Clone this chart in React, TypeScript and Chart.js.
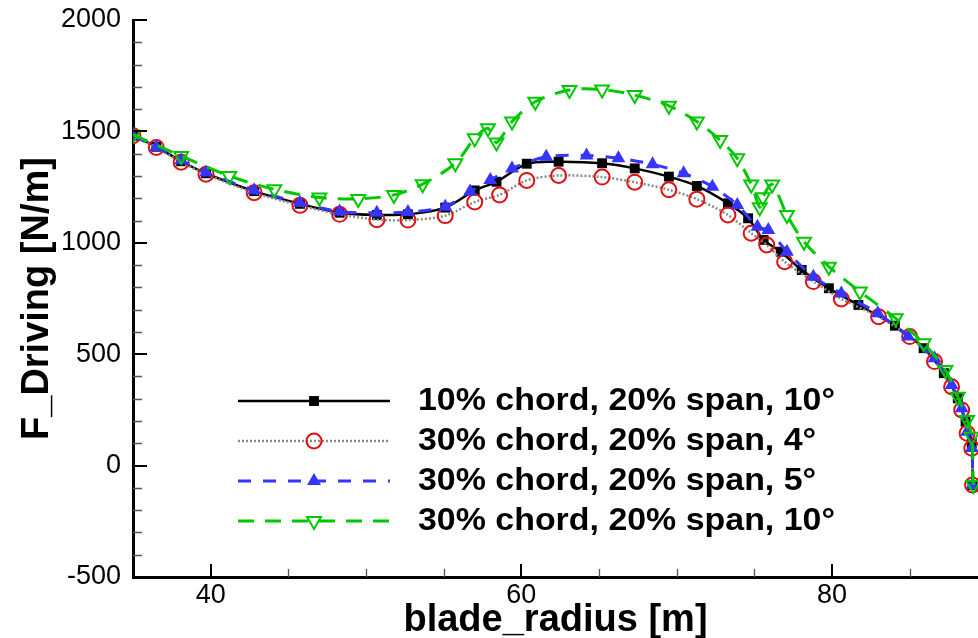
import React, { useEffect, useRef } from "react";
import { Chart, registerables } from "chart.js";

Chart.register(...registerables);

// ---------- data ----------
const seriesLabels = [
  "10% chord, 20% span, 10°",
  "30% chord, 20% span, 4°",
  "30% chord, 20% span, 5°",
  "30% chord, 20% span, 10°",
];

const radiusA = [35.0, 36.5, 38.1, 39.7, 42.8, 45.75, 48.3, 50.7, 52.7, 55.1, 57.0, 58.4, 60.35, 62.4, 65.2, 67.3, 69.5, 71.3, 73.3, 74.6, 75.6, 76.7, 78.05, 79.8, 81.7, 84.05, 85.9, 87.2, 88.1, 88.6, 89.0, 89.05];
const forceA = [1480, 1431, 1366, 1312, 1232, 1175, 1135, 1125, 1128, 1158, 1235, 1274, 1355, 1364, 1357, 1334, 1297, 1255, 1177, 1110, 1013, 960, 878, 796, 721, 628, 527, 415, 302, 197, 100, -87];

const radiusB = [35.0, 36.5, 38.1, 39.7, 42.8, 45.75, 48.3, 50.7, 52.7, 55.1, 57.0, 58.6, 60.35, 62.4, 65.2, 67.3, 69.5, 71.3, 73.3, 74.8, 75.8, 76.95, 78.8, 80.6, 83.0, 85.0, 86.6, 87.7, 88.35, 88.7, 89.0, 89.05];
const forceB = [1480, 1428, 1362, 1308, 1225, 1168, 1128, 1104, 1102, 1122, 1183, 1215, 1280, 1302, 1295, 1272, 1238, 1196, 1125, 1043, 990, 915, 826, 748, 668, 579, 467, 354, 250, 145, 78, -87];

const radiusC = [35.0, 36.5, 38.1, 39.7, 42.8, 45.75, 48.3, 50.7, 52.7, 55.1, 56.7, 58.0, 59.4, 61.6, 64.2, 66.25, 68.45, 70.45, 72.3, 73.9, 75.2, 75.9, 77.1, 78.8, 80.6, 82.95, 84.9, 86.6, 87.7, 88.35, 88.7, 89.0, 89.05];
const forceC = [1480, 1430, 1370, 1316, 1236, 1180, 1140, 1135, 1138, 1162, 1230, 1282, 1334, 1386, 1392, 1380, 1352, 1312, 1252, 1170, 1072, 1057, 960, 848, 773, 684, 579, 482, 362, 257, 152, 79, -87];

const radiusD = [35.0, 38.1, 41.2, 44.1, 47.0, 49.5, 51.8, 53.65, 55.75, 57.0, 57.85, 58.4, 59.4, 60.9, 63.1, 65.2, 67.3, 69.5, 71.3, 72.8, 73.9, 74.8, 75.35, 75.55, 76.15, 77.1, 78.2, 79.8, 81.8, 84.1, 85.9, 87.3, 88.1, 88.7, 89.0, 89.1];
const forceD = [1485, 1390, 1300, 1240, 1203, 1197, 1215, 1263, 1357, 1469, 1514, 1450, 1544, 1633, 1686, 1688, 1663, 1615, 1544, 1461, 1379, 1262, 1160, 1205, 1262, 1125, 1005, 893, 781, 661, 549, 429, 309, 205, 130, -87];

const xTickValues = [40, 60, 80];
const xMinorTickValues = [45, 50, 55, 65, 70, 75, 85];
const yTickValues = [-500, 0, 500, 1000, 1500, 2000];
const yMinorTickValues = [-400, -300, -200, -100, 100, 200, 300, 400, 600, 700, 800, 900, 1100, 1200, 1300, 1400, 1600, 1700, 1800, 1900];

const xLabel = "blade_radius [m]";
const yLabel = "F_Driving [N/m]";

const FONT = "'Liberation Sans', Arial, Helvetica, sans-serif";

const toPoints = (xs: number[], ys: number[]) => xs.map((x, i) => ({ x, y: ys[i] }));

type MarkerKind = "square" | "circle" | "triUp" | "triDown";

function drawMarker(ctx: CanvasRenderingContext2D, kind: MarkerKind, x: number, y: number, ds: any) {
  ctx.save();
  ctx.setLineDash([]);
  ctx.lineWidth = ds.pointBorderWidth;
  ctx.strokeStyle = ds.pointBorderColor;
  ctx.fillStyle = ds.pointBackgroundColor;
  const r = ds.pointRadius;
  ctx.beginPath();
  if (kind === "square") {
    const s = Math.SQRT1_2 * r;
    ctx.rect(x - s, y - s, 2 * s, 2 * s);
  } else if (kind === "circle") {
    ctx.arc(x, y, r, 0, Math.PI * 2);
  } else {
    const rot = kind === "triDown" ? Math.PI : 0;
    for (let k = 0; k < 3; k++) {
      const a = -Math.PI / 2 + rot + (k * 2 * Math.PI) / 3;
      const px = x + Math.cos(a) * r;
      const py = y + Math.sin(a) * r;
      if (k === 0) ctx.moveTo(px, py);
      else ctx.lineTo(px, py);
    }
    ctx.closePath();
  }
  ctx.fill();
  if (ds.pointBorderWidth > 0) ctx.stroke();
  ctx.restore();
}

const markerKinds: MarkerKind[] = ["square", "circle", "triUp", "triDown"];

const decorPlugin = {
  id: "decor",
  afterDraw(chart: any) {
    const ctx: CanvasRenderingContext2D = chart.ctx;
    const xs = chart.scales.x;
    const ys = chart.scales.y;
    const { left, bottom } = chart.chartArea;
    ctx.save();
    // inward ticks
    ctx.strokeStyle = "#000";
    ctx.lineWidth = 2;
    ctx.beginPath();
    yTickValues.forEach((v) => {
      const p = Math.round(ys.getPixelForValue(v));
      ctx.moveTo(left, p);
      ctx.lineTo(left + 14, p);
    });
    xTickValues.forEach((v) => {
      const p = Math.round(xs.getPixelForValue(v));
      ctx.moveTo(p, bottom);
      ctx.lineTo(p, bottom - 13);
    });
    ctx.stroke();
    ctx.strokeStyle = "#555";
    ctx.lineWidth = 1.3;
    ctx.beginPath();
    yMinorTickValues.forEach((v) => {
      const p = Math.round(ys.getPixelForValue(v)) + 0.5;
      ctx.moveTo(left, p);
      ctx.lineTo(left + 9, p);
    });
    xMinorTickValues.forEach((v) => {
      const p = Math.round(xs.getPixelForValue(v)) + 0.5;
      ctx.moveTo(p, bottom);
      ctx.lineTo(p, bottom - 8);
    });
    ctx.stroke();
    ctx.restore();

    // legend
    chart.data.datasets.forEach((ds: any, i: number) => {
      const y = 401 + i * 40;
      ctx.save();
      ctx.strokeStyle = ds.borderColor;
      ctx.lineWidth = ds.borderWidth;
      ctx.setLineDash(ds.borderDash || []);
      ctx.beginPath();
      ctx.moveTo(238, y);
      ctx.lineTo(390, y);
      ctx.stroke();
      ctx.restore();
      drawMarker(ctx, markerKinds[i], 314, y, ds);
      ctx.save();
      ctx.fillStyle = "#000";
      ctx.font = `bold 32px ${FONT}`;
      ctx.textBaseline = "middle";
      ctx.textAlign = "left";
      ctx.translate(418, y);
      ctx.scale(1.06, 1);
      ctx.fillText(ds.label, 0, 0);
      ctx.restore();
    });
  },
};

export default function App() {
  const canvasRef = useRef<HTMLCanvasElement | null>(null);

  useEffect(() => {
    const canvas = canvasRef.current;
    if (!canvas) return;
    const chart = new Chart(canvas, {
      type: "scatter",
      data: {
        datasets: [
          {
            label: seriesLabels[0],
            data: toPoints(radiusA, forceA),
            showLine: true,
            borderColor: "#000000",
            borderWidth: 2.5,
            tension: 0.3,
            pointStyle: "rect",
            pointRadius: 7,
            pointBackgroundColor: "#000000",
            pointBorderColor: "#000000",
            pointBorderWidth: 0,
            order: 3,
          },
          {
            label: seriesLabels[1],
            data: toPoints(radiusB, forceB),
            showLine: true,
            borderColor: "#8a8a8a",
            borderWidth: 2.5,
            borderDash: [2, 2],
            tension: 0.3,
            pointStyle: "circle",
            pointRadius: 7.5,
            pointBackgroundColor: "rgba(0,0,0,0)",
            pointBorderColor: "#dd1111",
            pointBorderWidth: 2,
            order: 2,
          },
          {
            label: seriesLabels[2],
            data: toPoints(radiusC, forceC),
            showLine: true,
            borderColor: "#3535ff",
            borderWidth: 3,
            borderDash: [13, 12],
            tension: 0.3,
            pointStyle: "triangle",
            pointRadius: 8,
            pointBackgroundColor: "#3535ff",
            pointBorderColor: "#3535ff",
            pointBorderWidth: 0,
            order: 1,
          },
          {
            label: seriesLabels[3],
            data: toPoints(radiusD, forceD),
            showLine: true,
            borderColor: "#00c800",
            borderWidth: 3,
            borderDash: [16, 11],
            tension: 0.3,
            pointStyle: "triangle",
            pointRotation: 180,
            pointRadius: 8,
            pointBackgroundColor: "rgba(255,255,255,0)",
            pointBorderColor: "#00c800",
            pointBorderWidth: 2,
            order: 0,
          },
        ] as any,
      },
      options: {
        responsive: false,
        animation: false,
        events: [],
        layout: { autoPadding: false, padding: { top: 20, right: 0, left: 0, bottom: 0 } },
        plugins: { legend: { display: false }, tooltip: { enabled: false } },
        scales: {
          x: {
            type: "linear",
            position: "bottom",
            min: 35,
            max: 89.4,
            afterBuildTicks: (s: any) => {
              s.ticks = xTickValues.map((v) => ({ value: v }));
            },
            afterFit: (s: any) => {
              s.height = 61;
              s.paddingLeft = 0;
              s.paddingRight = 0;
              s.paddingTop = 0;
              s.paddingBottom = 0;
            },
            grid: { display: true, drawOnChartArea: false, drawTicks: false, color: "rgba(0,0,0,0)" },
            border: { display: true, color: "#000", width: 3 },
            ticks: {
              color: "#000",
              padding: 2,
              font: { family: FONT, size: 27, lineHeight: 1.2 },
              maxRotation: 0,
              autoSkip: false,
              callback: (v: any) => String(v),
            },
            title: {
              display: true,
              text: xLabel,
              color: "#000",
              font: { family: FONT, size: 38, weight: "bold", lineHeight: 1 },
              padding: { top: 0, bottom: -2 },
            },
          },
          y: {
            type: "linear",
            min: -500,
            max: 2000,
            afterBuildTicks: (s: any) => {
              s.ticks = yTickValues.map((v) => ({ value: v }));
            },
            afterFit: (s: any) => {
              s.width = 133;
              s.paddingTop = 0;
              s.paddingBottom = 0;
              s.paddingLeft = 0;
              s.paddingRight = 0;
            },
            grid: { display: true, drawOnChartArea: false, drawTicks: false, color: "rgba(0,0,0,0)" },
            border: { display: true, color: "#000", width: 3 },
            ticks: {
              color: "#000",
              padding: 12,
              font: { family: FONT, size: 27, lineHeight: 1.2 },
              autoSkip: false,
              callback: (v: any) => String(v),
            },
            title: {
              display: true,
              text: yLabel,
              color: "#000",
              font: { family: FONT, size: 38, weight: "bold", lineHeight: 1 },
              padding: { top: 19, bottom: 0 },
            },
          },
        },
      } as any,
      plugins: [decorPlugin as any],
    });
    return () => chart.destroy();
  }, []);

  return (
    <div style={{ position: "absolute", left: 0, top: 0, width: 978, height: 638, background: "#fff" }}>
      <canvas ref={canvasRef} width={978} height={638} style={{ display: "block" }} />
    </div>
  );
}
